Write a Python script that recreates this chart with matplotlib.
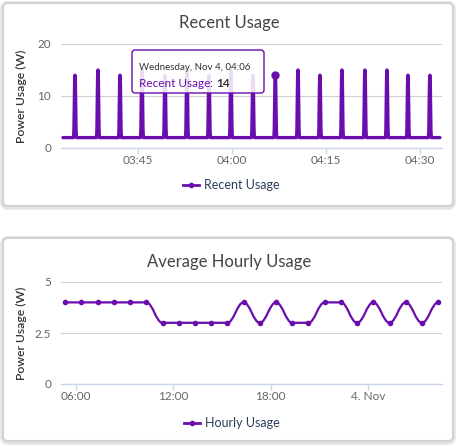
import pandas as pd
import matplotlib
matplotlib.use("Agg")
import matplotlib.pyplot as plt
import matplotlib.dates as mdates
from matplotlib.path import Path
from matplotlib.patches import PathPatch, FancyBboxPatch
from matplotlib.lines import Line2D
from matplotlib.transforms import IdentityTransform

# ---------- data ----------
day = "2020-11-04 "
recent_start = "03:33:02"
recent_end = "04:33:11"
recent_base = 2
peak_times = ["03:34:57", "03:38:37", "03:42:08", "03:45:38", "03:49:19", "03:52:49",
              "03:56:20", "03:59:50", "04:03:21", "04:06:55", "04:10:32", "04:14:02",
              "04:17:33", "04:21:13", "04:24:44", "04:28:05", "04:31:35"]
peak_values = [14, 15, 14, 15, 14, 15, 14, 15, 14, 14, 15, 14, 15, 15, 15, 14, 14]
hover_index = 9

hour_times = pd.date_range("2020-11-03 05:20", periods=24, freq="h")
hourly_values = [4, 4, 4, 4, 4, 4, 3, 3, 3, 3, 3, 4, 3, 4, 3, 3, 4, 4, 3, 4, 3, 4, 3, 4]

top_ticks = ["03:45", "04:00", "04:15", "04:30"]
bottom_ticks = ["2020-11-03 06:00", "2020-11-03 12:00", "2020-11-03 18:00", "2020-11-04 00:00"]
bottom_tick_labels = ["06:00", "12:00", "18:00", "4. Nov"]

# ---------- style ----------
W, H = 459, 448
PURPLE = "#6a0dad"
FONT = "Lato"
plt.rcParams["font.family"] = [FONT, "DejaVu Sans"]

fig = plt.figure(figsize=(W / 100, H / 100), dpi=100)
fig.patch.set_facecolor("white")


def px_rect(x0, y0, x1, y1):
    # pixel box (top-left origin) -> axes rect
    return [x0 / W, 1 - y1 / H, (x1 - x0) / W, (y1 - y0) / H]


def fx(x, y):
    return x / W, 1 - y / H


def card(x0, y0, x1, y1):
    sh = FancyBboxPatch((x0 - 1, H - y1 - 2), x1 - x0 + 2, y1 - y0 + 2,
                        boxstyle="round,pad=0,rounding_size=6",
                        transform=IdentityTransform(), fc="#e4e4e4", ec="#e4e4e4",
                        lw=2.5, zorder=-3)
    c = FancyBboxPatch((x0, H - y1), x1 - x0, y1 - y0,
                       boxstyle="round,pad=0,rounding_size=5",
                       transform=IdentityTransform(), fc="white", ec="#d2d2d2",
                       lw=1.5, zorder=-2)
    fig.add_artist(sh)
    fig.add_artist(c)


def spline(xs, ys):
    # highcharts-like spline: every point here is a flat spot or an extreme,
    # so the tangents are horizontal and the control points sit at 0.4*dx
    verts = [(xs[0], ys[0])]
    codes = [Path.MOVETO]
    for i in range(len(xs) - 1):
        dx = xs[i + 1] - xs[i]
        verts += [(xs[i] + 0.4 * dx, ys[i]), (xs[i + 1] - 0.4 * dx, ys[i + 1]),
                  (xs[i + 1], ys[i + 1])]
        codes += [Path.CURVE4] * 3
    return Path(verts, codes)


def style_axes(ax, yticks, ylabels):
    ax.set_facecolor("none")
    for s in ["top", "right", "left"]:
        ax.spines[s].set_visible(False)
    ax.spines["bottom"].set_color("#ccd6eb")
    ax.spines["bottom"].set_linewidth(1)
    ax.set_yticks(yticks)
    ax.set_yticklabels(ylabels)
    ax.grid(axis="y", color="#d0d0d0", lw=0.8)
    ax.set_axisbelow(True)
    ax.tick_params(axis="y", length=0, pad=7, labelsize=8.5, labelcolor="#666666")
    ax.tick_params(axis="x", length=4, color="#ccd6eb", width=1, pad=0.8,
                   labelsize=8.5, labelcolor="#666666")
    ax.set_ylabel("Power Usage (W)", fontsize=8.7, color="#333333",
                  fontweight="semibold")
    ax.yaxis.set_label_coords(-0.088, 0.5)


# ---------- cards ----------
card(3, 3, 453, 206)
card(3, 238, 453, 441)

# ---------- top chart ----------
ax1 = fig.add_axes(px_rect(61, 44, 442, 148))
t = lambda s: mdates.date2num(pd.Timestamp(day + s))
half = 14 / 86400
xs = [t(recent_start)]
ys = [recent_base]
for pt, pv in zip(peak_times, peak_values):
    c = t(pt)
    xs += [c - half, c, c + half]
    ys += [recent_base, pv, recent_base]
xs.append(t(recent_end))
ys.append(recent_base)

ax1.add_patch(PathPatch(spline(xs, ys), fill=False, ec=PURPLE, lw=2.4,
                        joinstyle="round", capstyle="round", zorder=3))
ax1.plot([t(peak_times[hover_index])], [peak_values[hover_index]], "o",
         color=PURPLE, ms=5, zorder=4)
ax1.set_xlim(t("03:32:43"), t("04:33:31"))
ax1.set_ylim(0, 20)
ax1.set_xticks([t(s) for s in top_ticks])
ax1.set_xticklabels(top_ticks)
style_axes(ax1, [0, 10, 20], ["0", "10", "20"])

fig.text(*fx(229, 23), "Recent Usage", ha="center", va="center",
         fontsize=12, color="#444444")

# legend top
fig.add_artist(Line2D([183 / W, 199 / W], [1 - 185 / H] * 2, color=PURPLE, lw=2))
fig.add_artist(Line2D([191 / W], [1 - 185 / H], marker="o", ms=3, color=PURPLE))
fig.text(*fx(204, 185), "Recent Usage", ha="left", va="center", fontsize=9,
         color="#2c3e5c")

# ---------- bottom chart ----------
ax2 = fig.add_axes(px_rect(61, 282, 442, 384))
hx = mdates.date2num(hour_times)
ax2.add_patch(PathPatch(spline(list(hx), hourly_values), fill=False, ec=PURPLE,
                        lw=1.6, zorder=3))
ax2.plot(hx, hourly_values, "o", color=PURPLE, ms=3, zorder=4)
ax2.set_xlim(mdates.date2num(pd.Timestamp("2020-11-03 05:04:30")),
             mdates.date2num(pd.Timestamp("2020-11-04 04:34")))
ax2.set_ylim(0, 5)
ax2.set_xticks(mdates.date2num(pd.to_datetime(bottom_ticks)))
ax2.set_xticklabels(bottom_tick_labels)
style_axes(ax2, [0, 2.5, 5], ["0", "2.5", "5"])

fig.text(*fx(229, 262), "Average Hourly Usage", ha="center", va="center",
         fontsize=12, color="#444444")

fig.add_artist(Line2D([184 / W, 200 / W], [1 - 423 / H] * 2, color=PURPLE, lw=2))
fig.add_artist(Line2D([192 / W], [1 - 423 / H], marker="o", ms=3, color=PURPLE))
fig.text(*fx(205, 423), "Hourly Usage", ha="left", va="center", fontsize=9,
         color="#2c3e5c")

# ---------- tooltip ----------
tip = FancyBboxPatch((132, H - 93), 132, 43, boxstyle="round,pad=0,rounding_size=3",
                     transform=IdentityTransform(), fc=(1, 1, 1, 0.86), ec=PURPLE,
                     lw=1, zorder=10)
fig.add_artist(tip)
fig.text(*fx(139, 68), "Wednesday, Nov 4, 04:06", ha="left", va="center",
         fontsize=7, color="#333333", zorder=11)

fig.canvas.draw()
r = fig.canvas.get_renderer()
x = 139
for txt, col, wt in [("Recent Usage", PURPLE, "normal"), (": ", "#333333", "normal"),
                     ("14", "#333333", "bold")]:
    tt = fig.text(*fx(x, 83), txt, ha="left", va="center", fontsize=8.5,
                  color=col, fontweight=wt, zorder=11)
    bb = tt.get_window_extent(r)
    x = bb.x1

fig.savefig("out.png", dpi=100)
